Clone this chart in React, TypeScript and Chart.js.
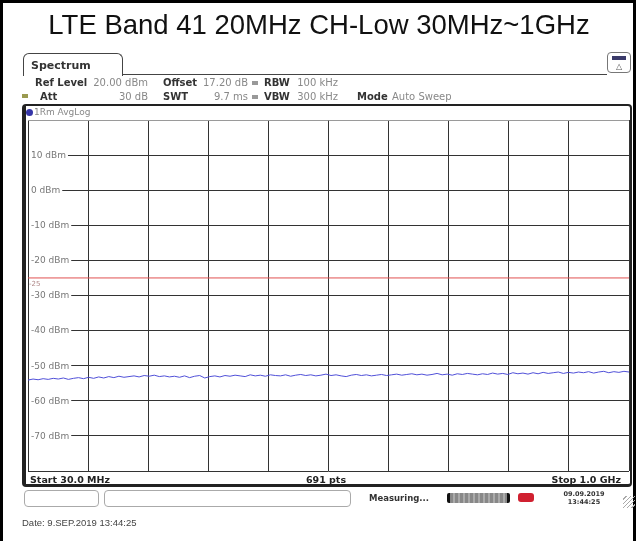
import React, { useEffect, useRef } from "react";
import { Chart, registerables } from "chart.js";

Chart.register(...registerables);

// ---------- data ----------
const TITLE = "LTE Band 41 20MHz CH-Low 30MHz~1GHz";
const START_MHZ = 30;
const STOP_MHZ = 1000;
const FREQ_GRID_MHZ = [30, 127, 224, 321, 418, 515, 612, 709, 806, 903, 1000];
const LEVEL_MIN = -80;
const LEVEL_MAX = 20;
const LEVEL_STEP = 10;
const LEVEL_LABEL_VALUES = [10, 0, -10, -20, -30, -40, -50, -60, -70];
const LEVEL_LABEL_TEXTS = ["10 dBm", "0 dBm", "-10 dBm", "-20 dBm", "-30 dBm", "-40 dBm", "-50 dBm", "-60 dBm", "-70 dBm"];
const LIMIT_DBM = -25;
const LIMIT_TEXT = "-25";
const TRACE_DBM = [
  -54.1, -53.8, -54.0, -53.7, -53.9, -53.6, -53.8, -53.5, -53.9, -53.6,
  -53.4, -53.7, -53.3, -53.6, -53.2, -53.5, -53.1, -53.4, -53.0, -53.3,
  -53.1, -52.9, -53.2, -52.8, -53.0, -52.7, -53.1, -52.9, -53.2, -53.0,
  -53.3, -52.9, -53.4, -53.0, -52.8, -53.5, -53.1, -52.9, -53.2, -52.8,
  -53.0, -52.7, -52.9, -53.1, -52.6, -52.9, -52.7, -53.0, -52.6, -52.8,
  -52.9, -52.6, -53.0, -52.7, -52.5, -52.8, -52.6, -52.9, -52.7, -52.4,
  -52.8, -52.6, -52.9, -53.1, -52.7, -52.5, -52.8, -52.6, -52.9, -52.7,
  -52.5, -52.8, -52.6, -52.4, -52.7, -52.5, -52.3, -52.6, -52.4, -52.7,
  -52.5, -52.2, -52.6, -52.4, -52.7, -52.3, -52.5, -52.2, -52.4, -52.6,
  -52.3, -52.5, -52.1, -52.4, -52.2, -52.5, -52.0, -52.3, -52.1, -52.4,
  -52.0, -52.3, -51.9, -52.2, -52.0, -51.8, -52.2, -51.9, -52.1, -51.8,
  -52.0, -51.7, -52.1, -51.8, -51.6, -52.0, -51.7, -51.9, -51.6, -51.8,
];

const HEADER_ROW1 = { refLabel: "Ref Level", refValue: "20.00 dBm", offLabel: "Offset", offValue: "17.20 dB", rbwLabel: "RBW", rbwValue: "100 kHz" };
const HEADER_ROW2 = { attLabel: "Att", attValue: "30 dB", swtLabel: "SWT", swtValue: "9.7 ms", vbwLabel: "VBW", vbwValue: "300 kHz", modeLabel: "Mode", modeValue: "Auto Sweep" };
const TRACE_TAG = "1Rm AvgLog";
const FOOT_START = "Start 30.0 MHz";
const FOOT_PTS = "691 pts";
const FOOT_STOP = "Stop 1.0 GHz";
const STATUS_TEXT = "Measuring...";
const STATUS_DATE = "09.09.2019";
const STATUS_TIME = "13:44:25";
const DATE_LINE = "Date: 9.SEP.2019  13:44:25";

const UI_FONT = '"DejaVu Sans", "Noto Sans", sans-serif';

type TProps = { x?: number; right?: number; y: number; size?: number; bold?: boolean; color?: string; family?: string; children: React.ReactNode; center?: boolean };
function T({ x, right, y, size = 10, bold = false, color = "#222", family = UI_FONT, children, center }: TProps) {
  const lh = Math.round(size * 1.4);
  const style: React.CSSProperties = {
    position: "absolute",
    top: y - lh / 2,
    lineHeight: lh + "px",
    fontSize: size,
    fontFamily: family,
    fontWeight: bold ? 700 : 400,
    color,
    whiteSpace: "nowrap",
  };
  if (center && x !== undefined) {
    style.left = x - 400;
    style.width = 800;
    style.textAlign = "center";
  } else if (right !== undefined) {
    style.right = 636 - right;
    style.textAlign = "right";
  } else {
    style.left = x;
  }
  return <div style={style}>{children}</div>;
}

const labelPlugin = {
  id: "dbmLabels",
  afterDatasetsDraw(chart: any) {
    const { ctx, chartArea } = chart;
    const y = chart.scales.y;
    ctx.save();
    ctx.font = '9px "DejaVu Sans"';
    ctx.textBaseline = "middle";
    LEVEL_LABEL_VALUES.forEach((v, i) => {
      const py = y.getPixelForValue(v);
      const text = LEVEL_LABEL_TEXTS[i];
      const w = ctx.measureText(text).width;
      ctx.fillStyle = "#ffffff";
      ctx.fillRect(chartArea.left + 1, py - 2, w + 4, 4);
      ctx.fillStyle = "#777777";
      ctx.fillText(text, chartArea.left + 3, py + 0.5);
    });
    const ly = y.getPixelForValue(LIMIT_DBM);
    ctx.font = '7px "DejaVu Sans"';
    ctx.fillStyle = "#b08888";
    ctx.fillText(LIMIT_TEXT, chartArea.left + 1, ly + 6);
    ctx.restore();
  },
};

function SpectrumChart() {
  const ref = useRef<HTMLCanvasElement | null>(null);
  useEffect(() => {
    if (!ref.current) return;
    const n = TRACE_DBM.length;
    const trace = TRACE_DBM.map((v, i) => ({ x: START_MHZ + (i * (STOP_MHZ - START_MHZ)) / (n - 1), y: v }));
    const limit = [
      { x: START_MHZ, y: LIMIT_DBM },
      { x: STOP_MHZ, y: LIMIT_DBM },
    ];
    const chart = new Chart(ref.current, {
      type: "line",
      data: {
        datasets: [
          { data: limit, borderColor: "#e05050", borderWidth: 1, pointRadius: 0, tension: 0 },
          { data: trace, borderColor: "#5050d8", borderWidth: 1, pointRadius: 0, tension: 0 },
        ],
      },
      options: {
        animation: false,
        responsive: false,
        maintainAspectRatio: false,
        layout: { padding: { left: 28, top: 120, right: 7, bottom: 70 } },
        plugins: { legend: { display: false }, tooltip: { enabled: false } },
        scales: {
          x: {
            type: "linear",
            min: START_MHZ,
            max: STOP_MHZ,
            afterBuildTicks: (axis: any) => {
              axis.ticks = FREQ_GRID_MHZ.map((v) => ({ value: v }));
            },
            ticks: { display: false },
            grid: { color: "#333333", lineWidth: 1, drawTicks: false },
            border: { display: false },
          },
          y: {
            type: "linear",
            min: LEVEL_MIN,
            max: LEVEL_MAX,
            ticks: { display: false, stepSize: LEVEL_STEP },
            grid: {
              color: (c: any) => (c.tick && c.tick.value === LEVEL_MAX ? "#9a9a9a" : "#333333"),
              lineWidth: 1,
              drawTicks: false,
            },
            border: { display: false },
          },
        },
      },
      plugins: [labelPlugin],
    });
    return () => chart.destroy();
  }, []);
  return <canvas ref={ref} width={636} height={541} style={{ position: "absolute", left: 0, top: 0, width: 636, height: 541 }} />;
}

export default function App() {
  return (
    <div style={{ position: "fixed", left: 0, top: 0, width: 636, height: 541, background: "#fff", overflow: "hidden" }}>
      <SpectrumChart />
      {/* outer frame */}
      <div style={{ position: "absolute", left: 0, top: 0, width: 636, height: 541, boxSizing: "border-box", borderLeft: "3px solid #000", borderTop: "3px solid #000", borderRight: "3px solid #000" }} />
      <T x={319} y={24} size={27.5} family='"Liberation Sans", Arial, sans-serif' color="#111" center>
        {TITLE}
      </T>
      {/* tab */}
      <div style={{ position: "absolute", left: 23, top: 53, width: 98, height: 22, border: "1px solid #444", borderBottom: "none", borderRadius: "6px 6px 0 0" }} />
      <div style={{ position: "absolute", left: 122, top: 74, width: 485, height: 1, background: "#444" }} />
      <T x={31} y={65} size={11} bold color="#333">Spectrum</T>
      {/* top-right icon */}
      <div style={{ position: "absolute", left: 607, top: 52, width: 24, height: 21, border: "1px solid #777", borderRadius: 4, boxSizing: "border-box", background: "#fff" }} />
      <div style={{ position: "absolute", left: 612, top: 56, width: 14, height: 4, background: "#3a3a6a" }} />
      <T x={619} y={66} size={8} color="#555" center>△</T>
      {/* header rows */}
      <T x={35} y={83} bold color="#333">{HEADER_ROW1.refLabel}</T>
      <T right={148} y={83} color="#888">{HEADER_ROW1.refValue}</T>
      <T x={163} y={83} bold color="#333">{HEADER_ROW1.offLabel}</T>
      <T right={248} y={83} color="#888">{HEADER_ROW1.offValue}</T>
      <div style={{ position: "absolute", left: 252, top: 81, width: 6, height: 4, background: "#999" }} />
      <T x={264} y={83} bold color="#333">{HEADER_ROW1.rbwLabel}</T>
      <T right={338} y={83} color="#888">{HEADER_ROW1.rbwValue}</T>

      <div style={{ position: "absolute", left: 22, top: 94, width: 6, height: 4, background: "#9a9a50" }} />
      <T x={40} y={97} bold color="#333">{HEADER_ROW2.attLabel}</T>
      <T right={148} y={97} color="#888">{HEADER_ROW2.attValue}</T>
      <T x={163} y={97} bold color="#333">{HEADER_ROW2.swtLabel}</T>
      <T right={248} y={97} color="#888">{HEADER_ROW2.swtValue}</T>
      <div style={{ position: "absolute", left: 252, top: 95, width: 6, height: 4, background: "#999" }} />
      <T x={264} y={97} bold color="#333">{HEADER_ROW2.vbwLabel}</T>
      <T right={338} y={97} color="#888">{HEADER_ROW2.vbwValue}</T>
      <T x={357} y={97} bold color="#333">{HEADER_ROW2.modeLabel}</T>
      <T x={392} y={97} color="#888">{HEADER_ROW2.modeValue}</T>

      {/* plot frame */}
      <div style={{ position: "absolute", left: 22, top: 104, width: 610, height: 383, boxSizing: "border-box", border: "2px solid #222", borderLeftWidth: 4, borderBottomWidth: 3, borderRadius: 4 }} />
      <div style={{ position: "absolute", left: 26, top: 109, width: 7, height: 7, borderRadius: 4, background: "#3535a8" }} />
      <T x={34} y={112} size={9} color="#888">{TRACE_TAG}</T>
      <T x={30} y={479} size={9.5} bold color="#222">{FOOT_START}</T>
      <T x={326} y={479} size={9.5} bold color="#222" center>{FOOT_PTS}</T>
      <T right={621} y={479} size={9.5} bold color="#222">{FOOT_STOP}</T>

      {/* status row */}
      <div style={{ position: "absolute", left: 24, top: 490, width: 75, height: 17, border: "1px solid #aaa", borderRadius: 4, boxSizing: "border-box" }} />
      <div style={{ position: "absolute", left: 104, top: 490, width: 247, height: 17, border: "1px solid #aaa", borderRadius: 4, boxSizing: "border-box" }} />
      <T x={369} y={498} size={8.5} bold color="#333">{STATUS_TEXT}</T>
      <div style={{ position: "absolute", left: 447, top: 493, width: 63, height: 10, background: "repeating-linear-gradient(90deg, #888 0px, #888 3px, #aaa 3px, #aaa 5px)", borderLeft: "3px solid #111", borderRight: "3px solid #111", boxSizing: "border-box", borderRadius: 2 }} />
      <div style={{ position: "absolute", left: 518, top: 493, width: 16, height: 9, background: "#d02030", borderRadius: 3 }} />
      <T x={584} y={494} size={6.5} bold color="#333" center>{STATUS_DATE}</T>
      <T x={584} y={502} size={6.5} bold color="#333" center>{STATUS_TIME}</T>
      <div style={{ position: "absolute", left: 623, top: 496, width: 12, height: 12, background: "repeating-linear-gradient(135deg, transparent 0px, transparent 2px, #aaa 2px, #aaa 3px)" }} />

      <T x={22} y={522} size={9.5} family='"Liberation Sans", Arial, sans-serif' color="#444">{DATE_LINE}</T>
    </div>
  );
}
